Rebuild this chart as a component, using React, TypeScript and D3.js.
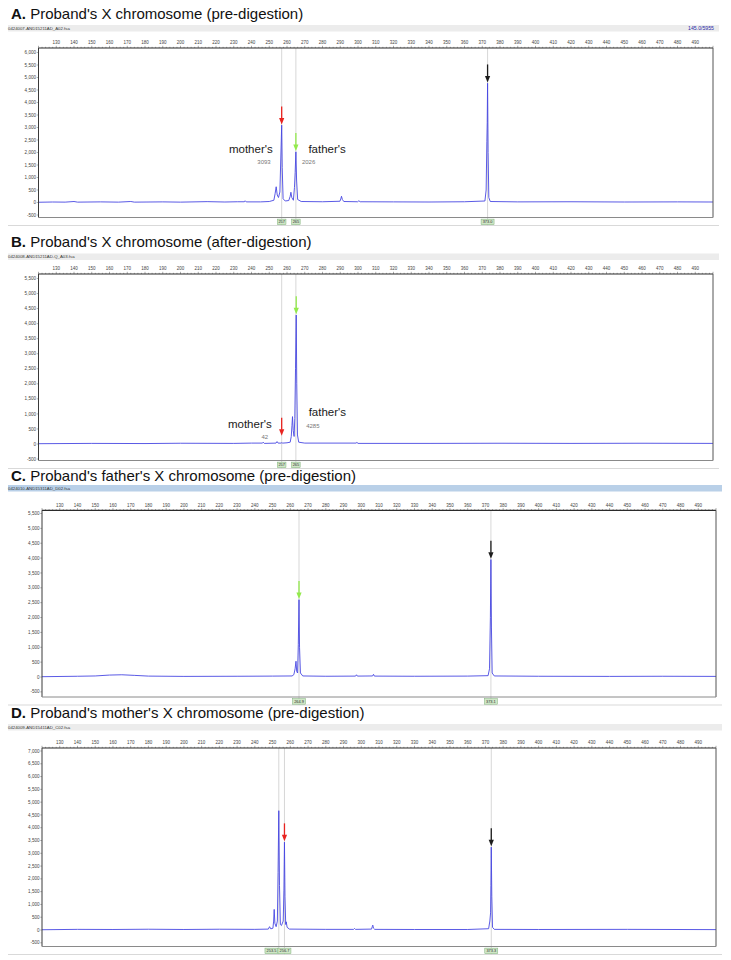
import React from "react";
import * as d3 from "d3";

type Pt = [number, number];

const W = 731;
const H = 960;
const FONT = "'Liberation Sans', Arial, Helvetica, sans-serif";

// fragment size axis (bp), drawn along the top of every trace
const sizeTickLabels = [
  130, 140, 150, 160, 170, 180, 190, 200, 210, 220, 230, 240, 250, 260, 270, 280, 290, 300,
  310, 320, 330, 340, 350, 360, 370, 380, 390, 400, 410, 420, 430, 440, 450, 460, 470, 480, 490,
];

// RFU axis labels per panel
const rfuTicksA = [6000, 5500, 5000, 4500, 4000, 3500, 3000, 2500, 2000, 1500, 1000, 500, 0, -500];
const rfuTicksB = [5500, 5000, 4500, 4000, 3500, 3000, 2500, 2000, 1500, 1000, 500, 0, -500];
const rfuTicksC = [5500, 5000, 4500, 4000, 3500, 3000, 2500, 2000, 1500, 1000, 500, 0, -500];
const rfuTicksD = [7000, 6500, 6000, 5500, 5000, 4500, 4000, 3500, 3000, 2500, 2000, 1500, 1000, 500, 0, -500];

// blue-channel traces: [size (bp), signal (RFU)]
const traceA: Pt[] = [
  [120, 10], [128, 20], [135, 15], [140, 40], [142, 15], [155, 25], [165, 15], [172, 40], [174, 15],
  [190, 25], [200, 15], [215, 35], [225, 20], [232, 30], [236.0, 30], [236.4, 70], [237.0, 25],
  [245, 25], [250, 40], [252.6, 90], [253.3, 350], [253.9, 630], [254.5, 300], [255.2, 200],
  [256.0, 420], [256.4, 1500], [257.0, 3093], [257.3, 1400], [257.8, 150], [259, 60], [261, 80],
  [261.8, 250], [262.2, 410], [262.7, 200], [263.6, 90], [264.2, 600], [264.6, 1200], [265.0, 2026],
  [265.4, 900], [266, 120], [268, 40], [280, 30], [289.8, 50], [290.3, 140], [290.7, 250],
  [291.2, 120], [292, 40], [299.8, 30], [300.5, 70], [301.2, 30], [320, 25], [340, 20], [360, 30],
  [371.5, 60], [372.2, 500], [372.6, 2430], [372.8, 3200], [373.0, 4770], [373.3, 2000],
  [373.7, 200], [374.5, 40], [390, 25], [420, 30], [450, 20], [480, 25], [500, 20],
];

const traceB: Pt[] = [
  [120, 10], [150, 20], [180, 15], [200, 25], [230, 20], [240, 30], [246.2, 30], [246.6, 60],
  [247.2, 20], [253.8, 30], [254.4, 80], [255.0, 30], [256.6, 30], [257.0, 42], [257.6, 30],
  [260, 40], [261.8, 60], [262.4, 250], [262.8, 620], [263.1, 910], [263.5, 450], [264.0, 250],
  [264.4, 850], [264.8, 2500], [265.2, 4285], [265.5, 2000], [265.9, 300], [266.6, 60], [270, 30],
  [298.9, 30], [299.4, 55], [300, 20], [340, 20], [380, 25], [420, 20], [460, 25], [500, 20],
];

const traceC: Pt[] = [
  [120, 10], [140, 25], [150, 35], [158, 65], [165, 75], [172, 55], [180, 30], [200, 20],
  [230, 25], [250, 30], [261, 35], [262, 80], [262.7, 275], [263.2, 530], [263.6, 185],
  [264.1, 135], [264.5, 1100], [264.9, 2600], [265.2, 1000], [265.7, 135], [267, 35], [280, 25],
  [296.8, 30], [297.3, 75], [297.8, 30], [306.4, 35], [306.9, 90], [307.4, 30], [330, 25],
  [360, 30], [371.5, 45], [372.3, 275], [372.8, 2000], [373.1, 3950], [373.4, 1650], [373.8, 135],
  [375, 35], [400, 25], [440, 20], [470, 25], [500, 20],
];

const traceD: Pt[] = [
  [120, 10], [140, 25], [160, 20], [180, 30], [200, 20], [220, 30], [240, 25], [247.6, 35],
  [248.3, 130], [249.0, 45], [250.2, 70], [250.6, 350], [250.9, 805], [251.3, 260], [252.0, 130],
  [252.7, 350], [253.1, 2250], [253.5, 4665], [253.9, 1735], [254.4, 215], [255.0, 175],
  [256.0, 350], [256.4, 1560], [256.7, 3435], [257.0, 1300], [257.4, 215], [257.7, 320],
  [258.2, 105], [259.5, 35], [280, 25], [295.7, 25], [296.2, 60], [296.7, 25], [305.8, 35],
  [306.2, 130], [306.5, 190], [306.9, 70], [307.6, 25], [330, 20], [360, 20], [371.8, 50],
  [372.5, 350], [372.9, 670], [373.1, 1735], [373.3, 3240], [373.6, 1300], [374.0, 105],
  [375, 25], [400, 20], [450, 25], [500, 15],
];

// called alleles (bin markers)
const binSizesA = [257, 265, 373.0];
const binLabelsA = ["257", "265", "373.0"];
const binSizesB = [257, 265];
const binLabelsB = ["257", "265"];
const binSizesC = [264.9, 373.1];
const binLabelsC = ["264.9", "373.1"];
const binSizesD = [253.5, 256.7, 373.3];
const binLabelsD = ["253.5", "256.7", "373.3"];

// arrows: [size, RFU at the arrow tip]
const arrowsA: Pt[] = [[257, 3093], [265, 2026], [373, 4770]];
const arrowColorsA = ["red", "green", "black"];
const arrowsB: Pt[] = [[257, 250], [265.2, 4285]];
const arrowColorsB = ["red", "green"];
const arrowsC: Pt[] = [[264.9, 2600], [373.1, 3950]];
const arrowColorsC = ["green", "black"];
const arrowsD: Pt[] = [[256.7, 3435], [373.3, 3240]];
const arrowColorsD = ["red", "black"];

const ARROW_FILL: Record<string, string> = {
  red: "#e8231f",
  green: "#93ea4c",
  black: "#1c1c1c",
};

type Note = { text: string; size: number; dx: number; y: number; anchor: "start" | "end"; kind: "word" | "num" };

const panels = [
  {
    letter: "A.",
    title: " Proband's X chromosome (pre-digestion)",
    file: "0424007-AND15211AD_A02.fsa",
    fileRight: "145.0/5955",
    headerFill: "#ececec",
    titleY: 18.5,
    headerTop: 25,
    frameTop: 48,
    frameBottom: 217.5,
    topValue: 6000,
    yTop: 52.5,
    yZero: 202.5,
    left: 38.5,
    right: 713,
    trace: traceA,
    ticks: rfuTicksA,
    binSizes: binSizesA,
    binLabels: binLabelsA,
    arrows: arrowsA,
    arrowColors: arrowColorsA,
    notes: [
      { text: "mother's", size: 257, dx: -9, y: 152.5, anchor: "end", kind: "word" },
      { text: "3093", size: 257, dx: -11, y: 163.5, anchor: "end", kind: "num" },
      { text: "father's", size: 265, dx: 12.5, y: 152.5, anchor: "start", kind: "word" },
      { text: "2026", size: 265, dx: 6, y: 163.5, anchor: "start", kind: "num" },
    ] as Note[],
  },
  {
    letter: "B.",
    title: " Proband's X chromosome (after-digestion)",
    file: "0424008-AND15211AD-Q_A03.fsa",
    fileRight: "",
    headerFill: "#ececec",
    titleY: 246.5,
    headerTop: 253.5,
    frameTop: 274,
    frameBottom: 460.5,
    topValue: 5500,
    yTop: 278.5,
    yZero: 444,
    left: 38.5,
    right: 713,
    trace: traceB,
    ticks: rfuTicksB,
    binSizes: binSizesB,
    binLabels: binLabelsB,
    arrows: arrowsB,
    arrowColors: arrowColorsB,
    notes: [
      { text: "mother's", size: 257, dx: -10, y: 427.5, anchor: "end", kind: "word" },
      { text: "42", size: 257, dx: -13.5, y: 439, anchor: "end", kind: "num" },
      { text: "father's", size: 265, dx: 12.8, y: 416, anchor: "start", kind: "word" },
      { text: "4285", size: 265, dx: 10.3, y: 427.5, anchor: "start", kind: "num" },
    ] as Note[],
  },
  {
    letter: "C.",
    title: " Proband's father's X chromosome (pre-digestion)",
    file: "0424010-AND15311AD_D02.fsa",
    fileRight: "",
    headerFill: "#b9d0e8",
    titleY: 480.5,
    headerTop: 485,
    frameTop: 510.3,
    frameBottom: 697,
    topValue: 5500,
    yTop: 513.5,
    yZero: 677,
    left: 42,
    right: 716,
    trace: traceC,
    ticks: rfuTicksC,
    binSizes: binSizesC,
    binLabels: binLabelsC,
    arrows: arrowsC,
    arrowColors: arrowColorsC,
    notes: [] as Note[],
  },
  {
    letter: "D.",
    title: " Proband's mother's X chromosome (pre-digestion)",
    file: "0424009-AND15411AD_C02.fsa",
    fileRight: "",
    headerFill: "#ececec",
    titleY: 717.5,
    headerTop: 724,
    frameTop: 748,
    frameBottom: 946.5,
    topValue: 7000,
    yTop: 751,
    yZero: 930,
    left: 42,
    right: 716,
    trace: traceD,
    ticks: rfuTicksD,
    binSizes: binSizesD,
    binLabels: binLabelsD,
    arrows: arrowsD,
    arrowColors: arrowColorsD,
    notes: [] as Note[],
  },
];

const fmtRfu = (v: number) => (v < 0 ? "-" + d3.format(",")(-v) : d3.format(",")(v));

function Arrow({ x, tip, color }: { x: number; tip: number; color: string }) {
  const len = 18;
  const head = 6.5;
  const half = 2.6;
  const fill = ARROW_FILL[color];
  return (
    <g>
      <line x1={x} x2={x} y1={tip - len} y2={tip - head + 0.5} stroke={fill} strokeWidth={1.3} />
      <path d={`M${x - half},${tip - head} L${x + half},${tip - head} L${x},${tip} Z`} fill={fill} />
    </g>
  );
}

function Panel({ p, idx }: { p: (typeof panels)[number]; idx: number }) {
  const x = d3.scaleLinear().domain([120, 500]).range([p.left, p.right]);
  const y = d3.scaleLinear().domain([0, p.topValue]).range([p.yZero, p.yTop]);
  const line = d3
    .line<Pt>()
    .x((d) => x(d[0]))
    .y((d) => y(d[1]));

  const minor = d3.range(120, 501, 2);
  const binRowY = p.frameBottom + 4.4;
  const lowerLine = p.frameBottom + 8;
  const clipId = `plot-clip-${idx}`;

  // call-label boxes, centred on their size; when two calls sit so close
  // that their boxes would collide, the earlier box is pushed left so it
  // butts against the next one
  const fontBin = 3.9;
  const boxes = p.binSizes.map((s, i) => {
    const w = p.binLabels[i].length * 2.2 + 2;
    return { x0: x(s) - w / 2, w, label: p.binLabels[i] };
  });
  for (let i = boxes.length - 2; i >= 0; i--) {
    const b = boxes[i];
    const n = boxes[i + 1];
    if (b.x0 + b.w > n.x0) b.x0 = n.x0 - b.w;
  }

  return (
    <g>
      {/* panel heading */}
      <text x={11} y={p.titleY} fontFamily={FONT} fontSize={15} fill="#111">
        <tspan fontWeight="bold">{p.letter}</tspan>
        <tspan>{p.title}</tspan>
      </text>

      {/* file name bar */}
      <rect x={8} y={p.headerTop} width={p.right + 6 - 8} height={6.5} fill={p.headerFill} />
      <text x={8} y={p.headerTop + 4.8} fontFamily={FONT} fontSize={4.3} fill="#333">
        {p.file}
      </text>
      {p.fileRight && (
        <text x={p.right + 1} y={p.headerTop + 5} fontFamily={FONT} fontSize={5.2} fill="#2a2aa8" textAnchor="end">
          {p.fileRight}
        </text>
      )}

      {/* bin marker guide lines */}
      {p.binSizes.map((s, i) => (
        <line key={`g${i}`} x1={x(s)} x2={x(s)} y1={p.frameTop} y2={lowerLine} stroke="#d2d2d2" strokeWidth={0.9} />
      ))}

      {/* size axis on top */}
      {minor.map((s) => (
        <line
          key={`m${s}`}
          x1={x(s)}
          x2={x(s)}
          y1={p.frameTop}
          y2={p.frameTop - (s % 10 === 0 ? 2.2 : 1.2)}
          stroke="#555"
          strokeWidth={0.5}
        />
      ))}
      {sizeTickLabels.map((s) => (
        <text
          key={`t${s}`}
          x={x(s)}
          y={p.frameTop - 3.6}
          fontFamily={FONT}
          fontSize={4.5}
          fill="#444"
          textAnchor="middle"
        >
          {s}
        </text>
      ))}

      {/* RFU axis */}
      {p.ticks.map((v) => (
        <g key={`y${v}`}>
          <line x1={p.left - 1.8} x2={p.left} y1={y(v)} y2={y(v)} stroke="#666" strokeWidth={0.5} />
          <text
            x={p.left - 2.4}
            y={y(v) + 1.6}
            fontFamily={FONT}
            fontSize={4.6}
            fill="#444"
            textAnchor="end"
          >
            {fmtRfu(v)}
          </text>
        </g>
      ))}

      {/* trace */}
      <clipPath id={clipId}>
        <rect x={p.left} y={p.frameTop} width={p.right - p.left} height={p.frameBottom - p.frameTop} />
      </clipPath>
      <path d={line(p.trace) ?? ""} fill="none" stroke="#4747e2" strokeWidth={0.9} strokeLinejoin="round" clipPath={`url(#${clipId})`} />

      {/* frame */}
      <line x1={p.left} x2={p.right} y1={p.frameTop} y2={p.frameTop} stroke="#2b2b2b" strokeWidth={1.2} />
      <line x1={p.left} x2={p.left} y1={p.frameTop} y2={p.frameBottom} stroke="#3a3a3a" strokeWidth={1} />
      <line x1={p.right} x2={p.right} y1={p.frameTop} y2={p.frameBottom} stroke="#555" strokeWidth={1} />
      <line x1={p.left} x2={p.right} y1={p.frameBottom} y2={p.frameBottom} stroke="#8a8a8a" strokeWidth={1} />
      <line x1={8} x2={p.right + 6} y1={lowerLine} y2={lowerLine} stroke="#cfcfcf" strokeWidth={0.8} />

      {/* allele call boxes */}
      {boxes.map((b, i) => (
        <g key={`b${i}`}>
          <rect x={b.x0} y={binRowY - 2.8} width={b.w} height={5.6} fill="#cfe6c6" stroke="#7fb27a" strokeWidth={0.5} />
          <text
            x={b.x0 + b.w / 2}
            y={binRowY + 1.4}
            fontFamily={FONT}
            fontSize={fontBin}
            fill="#2d2d2d"
            textAnchor="middle"
          >
            {b.label}
          </text>
        </g>
      ))}

      {/* arrows */}
      {p.arrows.map((a, i) => (
        <Arrow key={`a${i}`} x={x(a[0])} tip={y(a[1]) - 0.8} color={p.arrowColors[i]} />
      ))}

      {/* allele notes */}
      {p.notes.map((n, i) => (
        <text
          key={`n${i}`}
          x={x(n.size) + n.dx}
          y={n.y}
          fontFamily={FONT}
          fontSize={n.kind === "word" ? 11.5 : 6}
          fill={n.kind === "word" ? "#1a1a1a" : "#777"}
          textAnchor={n.anchor}
        >
          {n.text}
        </text>
      ))}
    </g>
  );
}

export default function App() {
  return (
    <svg
      width={W}
      height={H}
      viewBox={`0 0 ${W} ${H}`}
      style={{ position: "absolute", left: 0, top: 0, display: "block", background: "#fff" }}
    >
      <rect width={W} height={H} fill="#fff" />
      {panels.map((p, i) => (
        <Panel key={i} p={p} idx={i} />
      ))}
    </svg>
  );
}
